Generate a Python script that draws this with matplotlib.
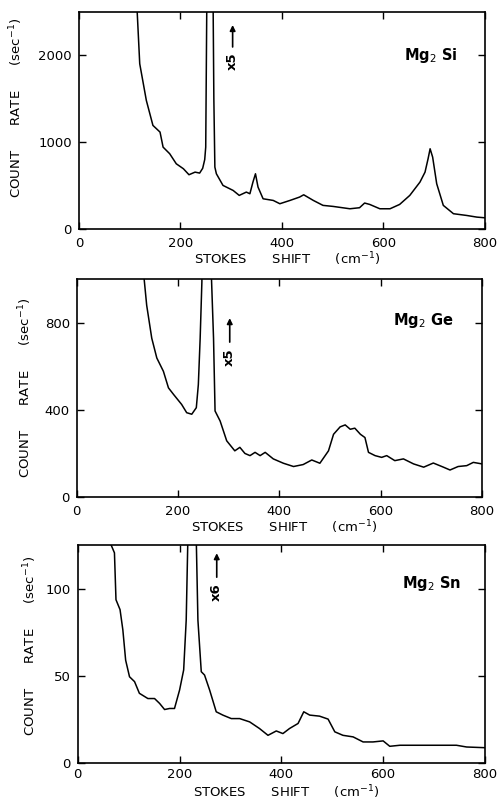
import matplotlib
matplotlib.use("Agg")
import matplotlib.pyplot as plt

plt.rcParams['font.family'] = ['DejaVu Sans']

# ---- Mg2Si ----
si_x = [115, 120, 133, 146, 160, 166, 179, 192, 206, 217, 229, 238, 244, 248, 250, 252, 258,
        264, 266, 268, 271, 284, 304, 316, 330, 337, 343, 348, 353, 363, 383, 396, 416, 435,
        443, 462, 481, 501, 534, 553, 563, 573, 593, 613, 632, 652, 672, 682, 688, 692, 697,
        705, 718, 738, 764, 784, 800]
si_y = [2500, 1904, 1482, 1194, 1117, 944, 868, 752, 695, 626, 656, 645, 700, 800, 944, 2500, 9000,
        3000, 1500, 714, 637, 503, 445, 388, 426, 407, 541, 637, 484, 349, 330, 292, 330, 369,
        395, 330, 273, 261, 234, 246, 300, 284, 234, 234, 284, 388, 541, 656, 810, 925, 829,
        522, 273, 177, 157, 138, 130]

# ---- Mg2Ge ----
ge_x = [133, 138, 148, 158, 171, 181, 191, 207, 217, 227, 236, 240, 243.6, 247, 256,
        266, 270, 273, 283, 296, 312, 322, 332, 342, 352, 362, 372, 388, 408, 428, 447, 464,
        480, 497, 507, 520, 530, 540, 549, 560, 569, 576, 589, 602, 612, 628, 645, 665, 685,
        704, 724, 737, 753, 770, 783, 800]
ge_y = [1000, 880, 729, 638, 577, 501, 471, 425, 387, 380, 410, 516, 729, 987, 4000,
        1000, 729, 395, 349, 258, 212, 228, 200, 190, 205, 190, 205, 175, 155, 140, 149, 170,
        155, 212, 288, 322, 331, 311, 316, 288, 273, 205, 190, 182, 190, 167, 175, 152, 137,
        156, 137, 124, 140, 144, 159, 152]

# ---- Mg2Sn ----
sn_x = [65.6, 72, 75, 83, 88.5, 94, 101.6, 111.5, 121, 137.7, 150.8, 160.7, 170.5, 180.4, 190,
        200, 208, 213, 216, 222, 233, 236, 242.6, 249, 259, 272, 285, 301.6, 318, 337.7, 357,
        373.7, 390, 403, 416, 432.8, 444, 455.7, 475, 491.8, 505, 521, 541, 560.6, 580, 600,
        613, 633, 665.5, 698, 744, 764, 800]
sn_y = [125, 120.6, 93.7, 88, 76.4, 59, 49.5, 46.7, 40, 37, 37, 34.2, 30.7, 31.3, 31.3,
        41.9, 53.4, 82, 125, 400, 125, 82, 52.4, 50.5, 41.9, 29.4, 27.5, 25.5, 25.5, 23.6, 19.8,
        15.9, 18.4, 16.9, 19.8, 22.7, 29.4, 27.5, 26.9, 25.2, 17.9, 15.9, 15, 12.1, 12.1, 12.7,
        9.6, 10.2, 10.2, 10.2, 10.2, 9.2, 8.8]

x_ticks = [0, 200, 400, 600, 800]
x_label = "STOKES      SHIFT      (cm$^{-1}$)"
y_label = "COUNT      RATE      (sec$^{-1}$)"

panels = [
    dict(x=si_x, y=si_y, ylim=2500, yticks=[0, 1000, 2000], label="Mg$_2$ Si",
         rect=[0.157, 0.714, 0.809, 0.271], mult="x5", mx=303, ay=(0.839, 0.94), ty=0.774,
         lx=0.80, ly=0.80, ylx=-0.153, yly=0.56, xly=-0.138, xpad=6),
    dict(x=ge_x, y=ge_y, ylim=1000, yticks=[0, 400, 800], label="Mg$_2$ Ge",
         rect=[0.153, 0.3795, 0.807, 0.272], mult="x5", mx=302, ay=(0.711, 0.821), ty=0.642,
         lx=0.78, ly=0.81, ylx=-0.128, yly=0.50, xly=-0.138, xpad=6),
    dict(x=sn_x, y=sn_y, ylim=125, yticks=[0, 50, 100], label="Mg$_2$ Sn",
         rect=[0.155, 0.0474, 0.811, 0.272], mult="x6", mx=273, ay=(0.853, 0.963), ty=0.784,
         lx=0.796, ly=0.826, ylx=-0.118, yly=0.54, xly=-0.133, xpad=3.5),
]

fig = plt.figure(figsize=(5.02, 8.01), dpi=100)
for p in panels:
    ax = fig.add_axes(p["rect"])
    ax.plot(p["x"], p["y"], color="black", lw=1.1)
    ax.set_xlim(0, 800)
    ax.set_ylim(0, p["ylim"])
    ax.set_xticks(x_ticks)
    ax.set_yticks(p["yticks"])
    ax.tick_params(direction="in", length=5, width=1.0, top=True, right=True,
                   labelsize=9.5)
    ax.tick_params(axis="x", pad=p["xpad"])
    ax.tick_params(axis="y", pad=5)
    for s in ax.spines.values():
        s.set_linewidth(1.2)
    ax.text(0.512, p["xly"], x_label, transform=ax.transAxes, fontsize=9.5,
            ha="center", va="center")
    ax.text(p["ylx"], p["yly"], y_label, transform=ax.transAxes, fontsize=9.5,
            rotation=90, ha="center", va="center")
    ax.text(p["lx"], p["ly"], p["label"], transform=ax.transAxes, fontsize=10.5,
            fontweight="bold", ha="left", va="center")
    tr = ax.get_xaxis_transform()
    ax.annotate("", xy=(p["mx"], p["ay"][1]), xytext=(p["mx"], p["ay"][0]),
                xycoords=tr, textcoords=tr,
                arrowprops=dict(arrowstyle="-|>", color="black", lw=1.2,
                                mutation_scale=8, shrinkA=0, shrinkB=0))
    ax.text(p["mx"], p["ty"], p["mult"], transform=tr, rotation=90, fontsize=9.5,
            fontweight="bold", ha="center", va="center")

fig.savefig("out.png", dpi=100)
